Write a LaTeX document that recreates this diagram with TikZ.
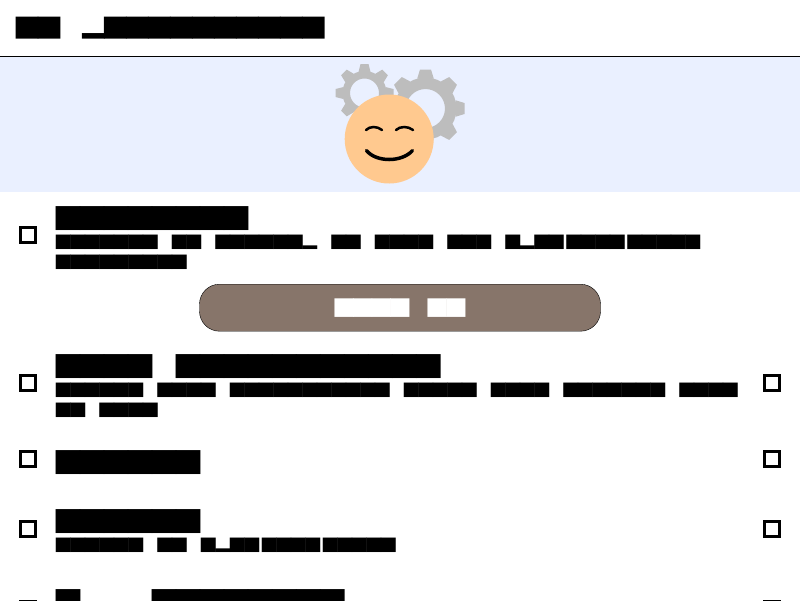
\documentclass[tikz,border=0pt]{standalone}
\usepackage{fontspec}
\newfontfamily\blockfont[FakeStretch=1.977]{DejaVu Sans Mono}
\newcommand{\gp}{\kern3pt}
\definecolor{bandblue}{HTML}{EAF0FF}
\definecolor{geargray}{HTML}{BDBDBD}
\definecolor{facepeach}{HTML}{FFC98F}
\definecolor{buttonbrown}{HTML}{87756A}
\tikzset{
    titletext/.style={anchor=north west, inner sep=0pt, yshift=-0.8pt, font=\blockfont\fontsize{18.5}{26}\selectfont},
    headtext/.style={anchor=north west, inner sep=0pt, yshift=-0.8pt, font=\blockfont\fontsize{20.17}{28}\selectfont},
    bodytext/.style={anchor=north west, inner sep=0pt, yshift=0.3pt, align=left, font=\blockfont\fontsize{12.18}{20.2}\selectfont},
    checkbox/.style={draw, rectangle, line width=3pt, minimum size=15pt, inner sep=0pt, fill=white},
    feature/.style={line width=#1, line cap=round},
}
\newcommand{\gear}[6]{% center x, y, hole radius, body radius, tip radius, half tooth
    \draw[geargray, line width=#4pt-#3pt] (#1,#2) circle ({(#3+#4)/2});
    \foreach \a in {0,45,...,315}
        \fill[geargray, shift={(#1,#2)}, rotate=\a]
            ({#4-1},{-1.5*#6}) -- (#5,-#6) -- (#5,#6) -- ({#4-1},{1.5*#6}) -- cycle;
}
\begin{document}
\begin{tikzpicture}[x=1pt,y=-1pt]
    \clip (0,0) rectangle (800,600);

    % header
    \node[titletext] (title) at (16,16) {██ ▂██████████};
    \draw[line width=1pt] (0,56.5) -- (800,56.5);

    % band with the face
    \fill[bandblue] (0,57) rectangle (800,192);
    \gear{364.5}{93}{14.5}{22}{29}{4}
    \gear{425.5}{108.5}{19.5}{31}{39}{5.5}
    \node[circle, fill=facepeach, minimum size=89pt, inner sep=0pt] (face) at (389.2,139) {};
    \draw[feature=2.5pt] (366,130) .. controls (370,126) and (377,126) .. (382,130);
    \draw[feature=2.5pt] (396,130) .. controls (400,126) and (408,126) .. (413,130);
    \draw[feature=3.5pt] (366.5,150.5) .. controls (376,162.5) and (402,162.5) .. (412.5,150.5);

    % first row
    \node[checkbox] (boxa) at (28,234.8) {};
    \node[headtext] (heada) at (56,206) {████████};
    \node[bodytext] (bodya) at (56,235) {███████ ██ ██████▂ ██ ████ ███ █▂██\gp████\gp█████\\█████████};

    % button
    \node[draw, fill=buttonbrown, rounded corners=20pt, minimum width=401pt, minimum height=47pt, inner sep=0pt,
        text=white, font=\blockfont\fontsize{15.63}{22}\selectfont] (button) at (400,307.7) {████ ██};

    % second row
    \node[checkbox] (boxb) at (28,382.6) {};
    \node[checkbox] (boxbr) at (772,382.6) {};
    \node[headtext] (headb) at (56,354) {████ ███████████};
    \node[bodytext] (bodyb) at (56,383) {██████ ████ ███████████ █████ ████ ███████ ████\\██ ████};

    % third row
    \node[checkbox] (boxc) at (28,458.6) {};
    \node[checkbox] (boxcr) at (772,458.6) {};
    \node[headtext] (headc) at (56,450) {██████};

    % fourth row
    \node[checkbox] (boxd) at (28,528.6) {};
    \node[checkbox] (boxdr) at (772,528.6) {};
    \node[headtext] (headd) at (56,509) {██████};
    \node[bodytext] (bodyd) at (56,538) {██████ ██ █▂██\gp████\gp█████};

    % fifth row, cut by the page
    \node[checkbox] (boxe) at (28,608.6) {};
    \node[checkbox] (boxer) at (772,608.6) {};
    \node[headtext] (heade) at (56,589) {█\ \ \ ████████};
\end{tikzpicture}
\end{document}
